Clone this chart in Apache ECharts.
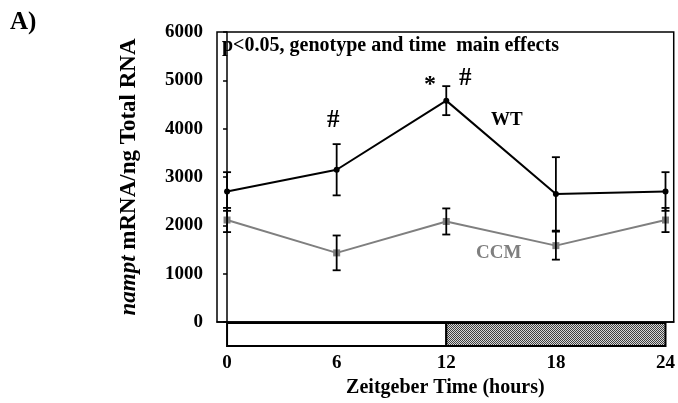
<!DOCTYPE html>
<html>
<head>
<meta charset="utf-8">
<script src="https://cdn.jsdelivr.net/npm/echarts@6/dist/echarts.min.js"></script>
<style>
html,body{margin:0;padding:0;background:#fff;}
#chart{width:678px;height:403px;}
</style>
</head>
<body>
<div id="chart"></div>
<script>
var hours = [0, 6, 12, 18, 24];
var wtMean = [2700, 3150, 4580, 2650, 2700];
var wtErr = [400, 530, 300, 760, 400];
var ccmMean = [2110, 1430, 2080, 1580, 2110];
var ccmErr = [250, 360, 270, 290, 250];
var yTicks = [0, 1000, 2000, 3000, 4000, 5000, 6000];
var lightDark = [[0, 12, 0], [12, 24, 1]];

var font = 'Liberation Serif';
var gray = '#7f7f7f';

// crosshatch fill for the dark phase
var pat = document.createElement('canvas');
pat.width = 2; pat.height = 2;
var ctx = pat.getContext('2d');
ctx.fillStyle = '#d8d8d8'; ctx.fillRect(0, 0, 2, 2);
ctx.fillStyle = '#404040'; ctx.fillRect(0, 0, 1, 1); ctx.fillRect(1, 1, 1, 1);

function errData(mean, err) {
    return hours.map(function (h, i) { return [h, mean[i] - err[i], mean[i] + err[i]]; });
}
function pairs(mean) {
    return hours.map(function (h, i) { return [h, mean[i]]; });
}
function errItem(params, api) {
    var lo = api.coord([api.value(0), api.value(1)]);
    var hi = api.coord([api.value(0), api.value(2)]);
    var st = { stroke: '#000', lineWidth: 1.8 };
    return {
        type: 'group',
        children: [
            { type: 'line', shape: { x1: lo[0], y1: lo[1], x2: hi[0], y2: hi[1] }, style: st },
            { type: 'line', shape: { x1: lo[0] - 4, y1: lo[1], x2: lo[0] + 4, y2: lo[1] }, style: st },
            { type: 'line', shape: { x1: hi[0] - 4, y1: hi[1], x2: hi[0] + 4, y2: hi[1] }, style: st }
        ]
    };
}

var myChart = echarts.init(document.getElementById('chart'));
var option = {
    animation: false,
    grid: {
        left: 217, right: 4, top: 32, bottom: 81,
        show: true, borderColor: '#000', borderWidth: 1.5, backgroundColor: 'transparent'
    },
    xAxis: {
        type: 'value', min: -0.55, max: 24.45,
        name: 'Zeitgeber Time (hours)', nameLocation: 'middle', nameGap: 55,
        nameTextStyle: { fontFamily: font, fontWeight: 'bold', fontSize: 20, color: '#000' },
        axisLine: { show: true, lineStyle: { color: '#000', width: 1.5 } },
        axisTick: { show: false },
        splitLine: { show: false },
        axisLabel: {
            customValues: hours, margin: 32,
            fontFamily: font, fontWeight: 'bold', fontSize: 19, color: '#000'
        }
    },
    yAxis: {
        type: 'value', min: 0, max: 6000, interval: 1000,
        name: '{i|nampt} mRNA/ng Total RNA', nameLocation: 'middle', nameGap: 76, nameRotate: 90,
        nameTextStyle: {
            fontFamily: font, fontWeight: 'bold', fontSize: 23, color: '#000',
            rich: { i: { fontFamily: font, fontWeight: 'bold', fontStyle: 'italic', fontSize: 23, color: '#000' } }
        },
        axisLine: { show: true, lineStyle: { color: '#000', width: 1.5 } },
        axisTick: { show: true, inside: false, length: 4, lineStyle: { color: '#000', width: 1.5 } },
        splitLine: { show: false },
        axisLabel: {
            customValues: yTicks, margin: 14,
            formatter: function (v) { return String(v); },
            fontFamily: font, fontWeight: 'bold', fontSize: 19, color: '#000'
        }
    },
    series: [
        {
            name: 'CCM', type: 'line', data: pairs(ccmMean),
            symbol: 'rect', symbolSize: 7,
            lineStyle: { color: gray, width: 2 }, itemStyle: { color: gray }, z: 2
        },
        {
            name: 'WT', type: 'line', data: pairs(wtMean),
            symbol: 'circle', symbolSize: 6,
            lineStyle: { color: '#000', width: 2 }, itemStyle: { color: '#000' }, z: 3
        },
        { type: 'custom', data: errData(ccmMean, ccmErr), renderItem: errItem, z: 4 },
        { type: 'custom', data: errData(wtMean, wtErr), renderItem: errItem, z: 4 },
        {
            type: 'custom', data: lightDark, clip: false, z: 5,
            renderItem: function (params, api) {
                var a = api.coord([api.value(0), 0]);
                var b = api.coord([api.value(1), 0]);
                return {
                    type: 'rect',
                    shape: { x: a[0], y: a[1] + 1, width: b[0] - a[0], height: 23 },
                    style: {
                        fill: api.value(2) ? { image: pat, repeat: 'repeat' } : '#fff',
                        stroke: '#000', lineWidth: 2
                    }
                };
            }
        }
    ],
    graphic: [
        { type: 'text', left: 10, top: 10, style: { text: 'A)', font: 'bold 25px "Liberation Serif"', fill: '#000' } },
        { type: 'text', left: 222, top: 36, style: { text: 'p<0.05, genotype and time  main effects', font: 'bold 20px "Liberation Serif"', fill: '#000' } },
        { type: 'text', left: 327, top: 108, style: { text: '#', font: 'bold 25px "Liberation Serif"', fill: '#000' } },
        { type: 'text', left: 424, top: 73, style: { text: '*', font: 'bold 24px "Liberation Serif"', fill: '#000' } },
        { type: 'text', left: 459, top: 66, style: { text: '#', font: 'bold 25px "Liberation Serif"', fill: '#000' } },
        { type: 'text', left: 491, top: 111, style: { text: 'WT', font: 'bold 19px "Liberation Serif"', fill: '#000' } },
        { type: 'text', left: 476, top: 244, style: { text: 'CCM', font: 'bold 19px "Liberation Serif"', fill: gray } }
    ]
};
myChart.setOption(option, true);
</script>
</body>
</html>
